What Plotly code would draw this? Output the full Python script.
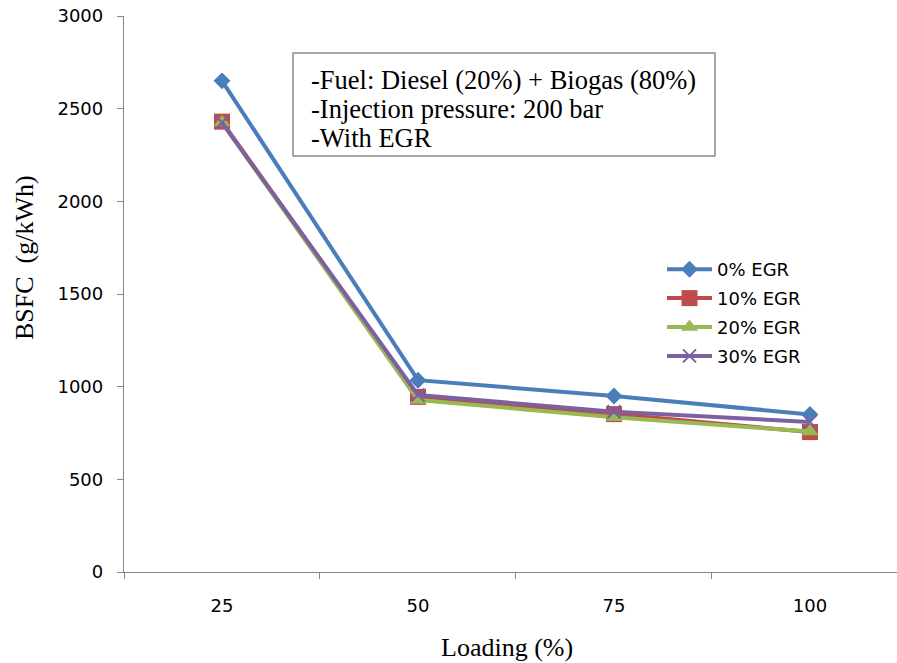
import plotly.graph_objects as go

# Engine load (%) categories and BSFC (g/kWh) for each EGR rate
loading = ["25", "50", "75", "100"]
egr_labels = ["0% EGR", "10% EGR", "20% EGR", "30% EGR"]
bsfc_0 = [2650, 1035, 950, 850]
bsfc_10 = [2430, 945, 852, 755]
bsfc_20 = [2425, 928, 835, 758]
bsfc_30 = [2425, 955, 865, 810]
y_ticks = [0, 500, 1000, 1500, 2000, 2500, 3000]
note_lines = ["-Fuel: Diesel (20%) + Biogas (80%)",
              "-Injection pressure: 200 bar",
              "-With EGR"]

series = [bsfc_0, bsfc_10, bsfc_20, bsfc_30]
colors = ["#4A7EBB", "#BE4B48", "#98B954", "#7D60A0"]
symbols = ["diamond", "square", "triangle-up", "x-thin"]
sizes = [13, 16, 15, 13]

SANS = "DejaVu Sans, sans-serif"
SERIF = "Liberation Serif, Times New Roman, serif"

# plot area in pixels
L, R, T, B = 124, 897, 16, 572
W, H = 897, 663


def px_x(x):
    return (x - L) / (R - L)


def px_y(y):
    return 1 - (y - T) / (B - T)


fig = go.Figure()
for name, vals, col, sym, sz in zip(egr_labels, series, colors, symbols, sizes):
    marker = dict(symbol=sym, size=sz, color=col, line=dict(width=0))
    if sym == "x-thin":
        marker["line"] = dict(width=2, color=col)
    fig.add_trace(go.Scatter(
        x=loading, y=vals, name=name, legendgroup=name,
        mode="lines+markers",
        line=dict(color=col, width=4),
        marker=marker,
    ))

fig.update_layout(
    width=W, height=H,
    margin=dict(l=L, r=W - R, t=T, b=H - B),
    paper_bgcolor="white", plot_bgcolor="white",
    showlegend=True,
    legend=dict(
        x=px_x(662), y=px_y(251), xanchor="left", yanchor="top",
        font=dict(family=SANS, size=18, color="black"),
        bgcolor="rgba(0,0,0,0)", tracegroupgap=2.5, itemwidth=45,
    ),
    xaxis=dict(
        type="category", range=[-0.5, 3.444],
        showline=True, linecolor="#868686", linewidth=1.3,
        ticks="outside", ticklen=6, tickcolor="#868686", tickson="boundaries",
        showgrid=False, zeroline=False, ticklabelstandoff=17,
        tickfont=dict(family=SANS, size=18, color="black"),
    ),
    yaxis=dict(
        range=[0, 3000], tickvals=y_ticks,
        showline=True, linecolor="#868686", linewidth=1.3,
        ticks="outside", ticklen=6, tickcolor="#868686",
        showgrid=False, zeroline=False, ticklabelstandoff=10,
        tickfont=dict(family=SANS, size=18, color="black"),
    ),
)

# Axis titles
fig.add_annotation(xref="paper", yref="paper", x=px_x(507), y=px_y(647),
                   xanchor="center", yanchor="middle", showarrow=False,
                   text="Loading (%)", font=dict(family=SERIF, size=26, color="black"))
fig.add_annotation(xref="paper", yref="paper", x=px_x(24), y=px_y(258),
                   xanchor="center", yanchor="middle", showarrow=False, textangle=-90,
                   text="BSFC  (g/kWh)", font=dict(family=SERIF, size=26, color="black"))

# Test-condition note box
fig.add_shape(type="rect", xref="paper", yref="paper",
              x0=px_x(293), x1=px_x(715), y0=px_y(156), y1=px_y(53),
              line=dict(color="#8C8C8C", width=1.5), fillcolor="white", layer="above")
for i, line in enumerate(note_lines):
    fig.add_annotation(
        xref="paper", yref="paper",
        x=px_x(309), y=px_y(80 + 29 * i), xanchor="left", yanchor="middle",
        align="left", showarrow=False, text=line,
        font=dict(family=SERIF, size=26.5, color="black"),
    )

fig.write_html("out.html")
